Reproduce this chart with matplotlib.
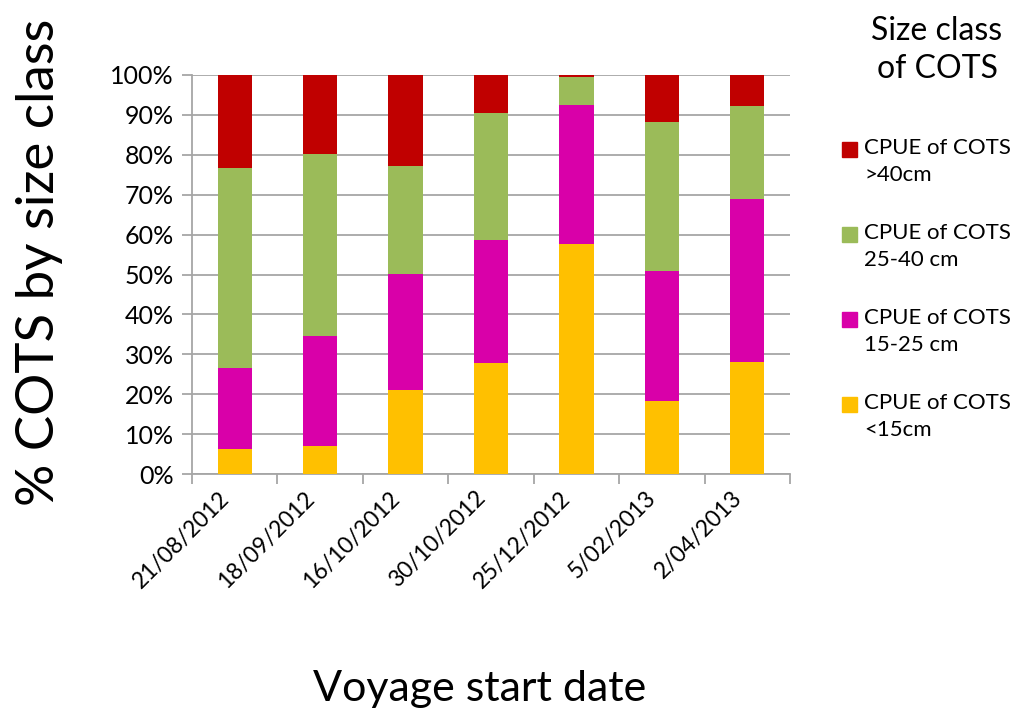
import matplotlib
matplotlib.use("Agg")
import matplotlib.pyplot as plt
from matplotlib.patches import Rectangle
from matplotlib.transforms import ScaledTranslation
import numpy as np

# Voyage start dates (x categories)
voyages = ["21/08/2012", "18/09/2012", "16/10/2012", "30/10/2012",
           "25/12/2012", "5/02/2013", "2/04/2013"]

# Percentage of COTS in each size class per voyage
pct_lt15 = [6.3, 6.9, 21.1, 27.8, 57.6, 18.4, 28.0]
pct_15_25 = [20.2, 27.6, 29.1, 30.8, 34.8, 32.5, 40.9]
pct_25_40 = [50.1, 45.6, 27.0, 31.8, 7.0, 37.2, 23.4]
pct_gt40 = [23.4, 19.9, 22.8, 9.6, 0.6, 11.9, 7.7]

series_labels = ["CPUE of COTS\n<15cm", "CPUE of COTS\n15-25 cm",
                 "CPUE of COTS\n25-40 cm", "CPUE of COTS\n>40cm"]
series_colors = ["#FFC000", "#D900A9", "#9BBB59", "#C00000"]

y_ticks = list(range(0, 101, 10))

FONT = "Lato"
plt.rcParams["font.family"] = [FONT, "DejaVu Sans"]

W, H = 1013, 711
fig = plt.figure(figsize=(W / 100, H / 100), dpi=100)
ax = fig.add_axes([192 / W, 1 - 474 / H, (790 - 192) / W, (474 - 75) / H])

x = np.arange(len(voyages))
bottom = np.zeros(len(voyages))
for vals, col in zip([pct_lt15, pct_15_25, pct_25_40, pct_gt40], series_colors):
    v = np.array(vals)
    ax.bar(x, v, width=0.4, bottom=bottom, color=col, zorder=3,
           edgecolor="none")
    bottom += v

ax.set_xlim(-0.5, len(voyages) - 0.5)
ax.set_ylim(0, 100)
ax.set_yticks(y_ticks)
ax.set_yticklabels([f"{t}%" for t in y_ticks], fontsize=18)
ax.yaxis.grid(True, color="#A6A6A6", linewidth=1.3, zorder=0)
ax.set_axisbelow(True)

# category boundary ticks on the x axis
ax.set_xticks(np.arange(-0.5, len(voyages), 1.0))
ax.set_xticklabels([])
ax.set_xticks(x, minor=True)
ax.set_xticklabels(voyages, minor=True, rotation=45, ha="right",
                   va="center", rotation_mode="anchor", fontsize=16.5)
ax.tick_params(axis="x", which="minor", length=0, pad=15)
ax.tick_params(axis="x", which="major", length=7, width=1.3, color="#A6A6A6")
ax.tick_params(axis="y", length=7, width=1.3, color="#A6A6A6", pad=6)
shift = ScaledTranslation(-9 / 100, 0, fig.dpi_scale_trans)
for lbl in ax.get_xticklabels(minor=True):
    lbl.set_transform(lbl.get_transform() + shift)

for side in ["top", "right"]:
    ax.spines[side].set_visible(False)
for side in ["left", "bottom"]:
    ax.spines[side].set_color("#A6A6A6")
    ax.spines[side].set_linewidth(1.3)

fig.text(40 / W, 1 - 262 / H, "% COTS by size class", rotation=90,
         ha="center", va="center", fontsize=38)
fig.text(480 / W, 1 - 689 / H, "Voyage start date", ha="center",
         va="center", fontsize=31)

# legend, drawn top to bottom from the largest size class
fig.text(937 / W, 1 - 50 / H, "Size class\nof COTS", ha="center",
         va="center", fontsize=23, linespacing=1.3)
for i, (lab, col) in enumerate(zip(series_labels[::-1], series_colors[::-1])):
    top = 142 + 85 * i
    fig.patches.append(Rectangle((842 / W, 1 - (top + 15) / H), 15 / W,
                                 15 / H, transform=fig.transFigure,
                                 color=col))
    fig.text(864 / W, 1 - (top - 4) / H, lab, ha="left", va="top",
             fontsize=16, linespacing=1.45)

fig.savefig("out.png", dpi=100)
